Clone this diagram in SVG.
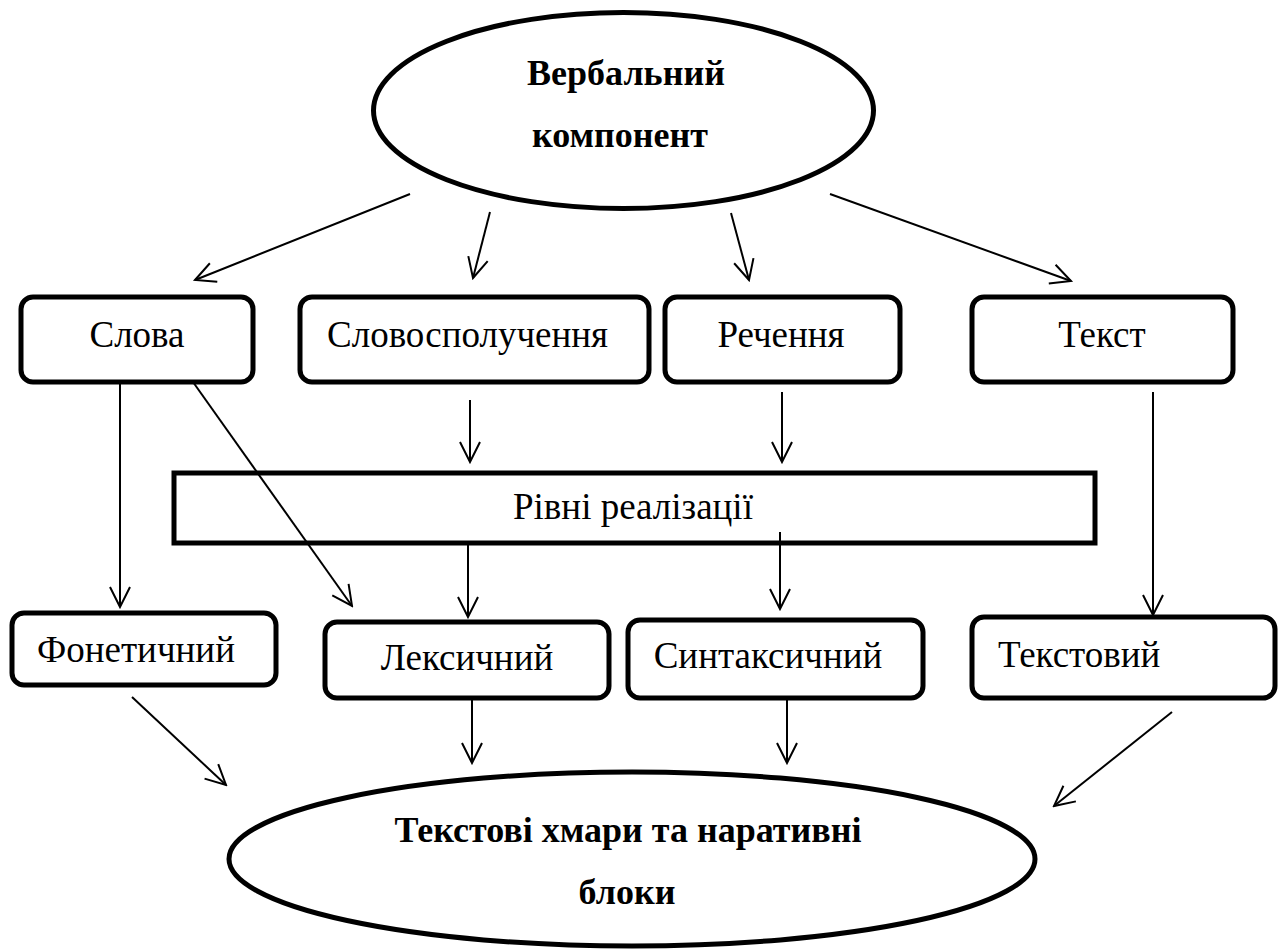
<svg xmlns="http://www.w3.org/2000/svg" width="1286" height="952" viewBox="0 0 1286 952">
<style>
.shape{fill:#fff;stroke:#000;stroke-width:5}
.lbl{font-family:"Liberation Serif","Times New Roman",serif;font-size:37px;fill:#000}
.bold{font-weight:bold;font-size:36px}
.conn line{stroke:#000;stroke-width:2;marker-end:url(#arr)}
</style>
<defs>
<marker id="arr" markerUnits="userSpaceOnUse" viewBox="-2 -2 24 24" markerWidth="24" markerHeight="24" refX="20" refY="10" orient="auto">
<path d="M0,0 L20,10 L0,20" fill="none" stroke="#000" stroke-width="2"/>
</marker>
</defs>
<rect width="1286" height="952" fill="#fff"/>
<g id="n-verbal">
<ellipse class="shape" cx="623.5" cy="110.5" rx="250" ry="98"/>
<text class="lbl bold" x="626" y="85" text-anchor="middle">Вербальний</text>
<text class="lbl bold" x="620" y="147" text-anchor="middle">компонент</text>
</g>
<g id="n-slova">
<rect class="shape" x="21" y="297" width="232" height="85" rx="12"/>
<text class="lbl" x="137" y="347" text-anchor="middle">Слова</text>
</g>
<g id="n-slovospoluchennia">
<rect class="shape" x="300" y="297" width="349" height="85" rx="12"/>
<text class="lbl" x="327" y="347">Словосполучення</text>
</g>
<g id="n-rechennia">
<rect class="shape" x="665" y="297" width="235" height="85" rx="12"/>
<text class="lbl" x="781" y="347" text-anchor="middle">Речення</text>
</g>
<g id="n-tekst">
<rect class="shape" x="972" y="297" width="261" height="85" rx="12"/>
<text class="lbl" x="1102" y="347" text-anchor="middle">Текст</text>
</g>
<g id="n-rivni">
<rect class="shape" x="174" y="473" width="921" height="70"/>
<text class="lbl" x="513" y="519">Рівні реалізації</text>
</g>
<g id="n-fonetychnyi">
<rect class="shape" x="12" y="613" width="264" height="72" rx="12"/>
<text class="lbl" x="37" y="662">Фонетичний</text>
</g>
<g id="n-leksychnyi">
<rect class="shape" x="325" y="622" width="284" height="76" rx="12"/>
<text class="lbl" x="467" y="670" text-anchor="middle">Лексичний</text>
</g>
<g id="n-syntaksychnyi">
<rect class="shape" x="628" y="620" width="295" height="78" rx="12"/>
<text class="lbl" x="768" y="668" text-anchor="middle">Синтаксичний</text>
</g>
<g id="n-tekstovyi">
<rect class="shape" x="972" y="617" width="303" height="81" rx="12"/>
<text class="lbl" x="998" y="667">Текстовий</text>
</g>
<g id="n-khmary">
<ellipse class="shape" cx="632" cy="859" rx="403" ry="87"/>
<text class="lbl bold" x="628" y="842" text-anchor="middle">Текстові хмари та наративні</text>
<text class="lbl bold" x="627" y="904" text-anchor="middle">блоки</text>
</g>
<g id="connectors" class="conn">
<line x1="410" y1="194" x2="195" y2="280"/>
<line x1="490" y1="212" x2="473" y2="278"/>
<line x1="731" y1="213" x2="749" y2="280"/>
<line x1="830" y1="194" x2="1071" y2="281"/>
<line x1="470" y1="400" x2="470" y2="462"/>
<line x1="782" y1="392" x2="782" y2="462"/>
<line x1="120" y1="382" x2="120" y2="607"/>
<line x1="193" y1="382" x2="352" y2="606"/>
<line x1="1153" y1="392" x2="1153" y2="615"/>
<line x1="468" y1="543" x2="468" y2="617"/>
<line x1="780" y1="532" x2="780" y2="609"/>
<line x1="132" y1="697" x2="226" y2="785"/>
<line x1="472" y1="698" x2="472" y2="763"/>
<line x1="787" y1="698" x2="787" y2="763"/>
<line x1="1172" y1="712" x2="1054" y2="806"/>
</g>
</svg>
